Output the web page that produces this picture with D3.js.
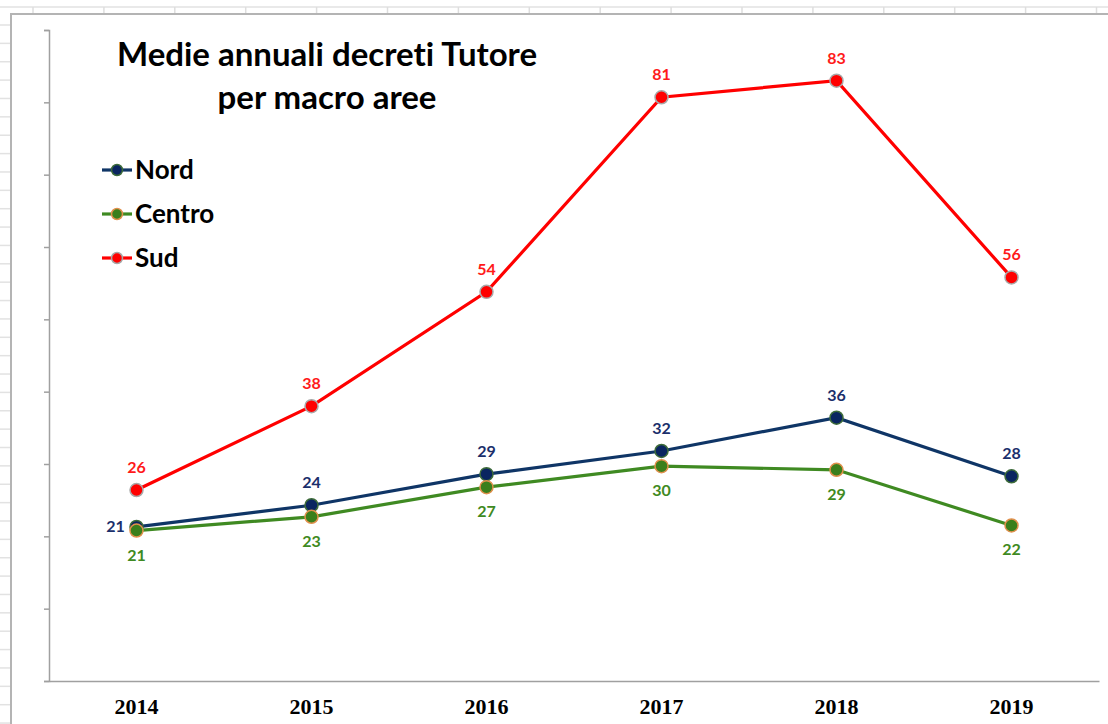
<!DOCTYPE html>
<html>
<head>
<meta charset="utf-8">
<script src="https://cdn.jsdelivr.net/npm/d3@7"></script>
<style>
  body { margin: 0; background: #fff; }
  svg { display: block; }
  text { font-variant-ligatures: none; }
</style>
</head>
<body>
<div id="chart"></div>
<script>
// Data
var years = ["2014", "2015", "2016", "2017", "2018", "2019"];
var nord = [21.3, 24.3, 28.6, 31.8, 36.4, 28.3];
var centro = [20.8, 22.7, 26.8, 29.7, 29.2, 21.5];
var sud = [26.4, 38.0, 53.8, 80.7, 83.0, 55.8];
var yTicks = [0, 10, 20, 30, 40, 50, 60, 70, 80, 90];

var W = 1108, H = 724;
var svg = d3.select("#chart").append("svg")
    .attr("width", W)
    .attr("height", H);

// spreadsheet background (grid of the sheet behind the chart)
var sheet = svg.append("g").attr("class", "sheet");
sheet.append("line")
    .attr("x1", 0).attr("x2", W).attr("y1", 7).attr("y2", 7)
    .attr("stroke", "#e2e2e2").attr("stroke-width", 1.5);
d3.range(33, W, 70.9).forEach(function(x) {
  sheet.append("line")
      .attr("x1", x).attr("x2", x).attr("y1", 7).attr("y2", 14)
      .attr("stroke", "#dedede").attr("stroke-width", 1.5);
});
d3.range(25, H, 18.37).forEach(function(y) {
  sheet.append("line")
      .attr("x1", 0).attr("x2", 11).attr("y1", y).attr("y2", y)
      .attr("stroke", "#e2e2e2").attr("stroke-width", 1.5);
});
// chart frame
svg.append("path")
    .attr("d", "M11," + H + "V14H" + W)
    .attr("fill", "none")
    .attr("stroke", "#b4b4b4")
    .attr("stroke-width", 2);

// Scales
var plotLeft = 49, plotRight = 1099, plotTop = 30, plotBottom = 681;
var x = d3.scaleBand().domain(years).range([plotLeft, plotRight]);
var y = d3.scaleLinear().domain([0, 90]).range([plotBottom, plotTop]);
var cx = function(d, i) { return x(years[i]) + x.bandwidth() / 2; };

// Axes
var yAxis = svg.append("g")
    .attr("transform", "translate(" + plotLeft + ",0)")
    .call(d3.axisLeft(y).tickValues(yTicks).tickSize(5).tickFormat(""));
yAxis.selectAll("path, line").attr("stroke", "#a0a0a0").attr("stroke-width", 1.5);

var xAxis = svg.append("g")
    .attr("transform", "translate(0," + plotBottom + ")")
    .call(d3.axisBottom(x).tickSize(0).tickPadding(17));
xAxis.select(".domain").attr("stroke", "#a0a0a0").attr("stroke-width", 1.5);
xAxis.selectAll("text")
    .attr("font-family", "'Liberation Serif', 'Times New Roman', serif")
    .attr("font-weight", "bold")
    .attr("font-size", 22)
    .attr("fill", "#000");

// Series
var series = [
  { name: "Nord", values: nord, line: "#0f3566", fill: "#0a2560", outline: "#3d6b3a", label: "#1b2f6b", pos: "above" },
  { name: "Centro", values: centro, line: "#3f8a22", fill: "#3a7f1c", outline: "#e0904c", label: "#3f8a22", pos: "below" },
  { name: "Sud", values: sud, line: "#ff0000", fill: "#ff0000", outline: "#a8a8a8", label: "#ff1a1a", pos: "above" }
];

var line = d3.line()
    .x(cx)
    .y(function(d) { return y(d); });

var labelFont = "Lato, 'Open Sans', sans-serif";

series.forEach(function(s) {
  var g = svg.append("g").attr("class", "series " + s.name);

  g.append("path")
      .datum(s.values)
      .attr("d", line)
      .attr("fill", "none")
      .attr("stroke", s.line)
      .attr("stroke-width", 3.2);

  g.selectAll("circle")
      .data(s.values)
    .enter().append("circle")
      .attr("cx", cx)
      .attr("cy", function(d) { return y(d); })
      .attr("r", 6.5)
      .attr("fill", s.fill)
      .attr("stroke", s.outline)
      .attr("stroke-width", 1.5);

  g.selectAll("text")
      .data(s.values)
    .enter().append("text")
      .attr("x", function(d, i) {
        if (s.name === "Nord" && i === 0) return cx(d, i) - 21;
        return cx(d, i);
      })
      .attr("y", function(d, i) {
        if (s.name === "Nord" && i === 0) return y(d) + 5;
        return s.pos === "above" ? y(d) - 17 : y(d) + 30;
      })
      .attr("text-anchor", "middle")
      .attr("font-family", labelFont)
      .attr("font-weight", "bold")
      .attr("font-size", 16)
      .attr("fill", s.label)
      .text(function(d) { return Math.round(d); });
});

// Title
var title = svg.append("text")
    .attr("text-anchor", "middle")
    .attr("font-family", labelFont)
    .attr("font-weight", "bold")
    .attr("font-size", 33)
    .attr("fill", "#000");
title.append("tspan").attr("x", 327).attr("y", 66).text("Medie annuali decreti Tutore");
title.append("tspan").attr("x", 327).attr("y", 109).text("per macro aree");

// Legend
var legend = svg.append("g").attr("class", "legend");
series.forEach(function(s, i) {
  var ly = 170 + i * 44;
  legend.append("line")
      .attr("x1", 102).attr("x2", 132).attr("y1", ly).attr("y2", ly)
      .attr("stroke", s.line).attr("stroke-width", 3.2);
  legend.append("circle")
      .attr("cx", 117).attr("cy", ly).attr("r", 5.5)
      .attr("fill", s.fill).attr("stroke", s.outline).attr("stroke-width", 1.5);
  legend.append("text")
      .attr("x", 135).attr("y", ly + 9)
      .attr("font-family", labelFont)
      .attr("font-weight", "bold")
      .attr("font-size", 26)
      .attr("fill", "#000")
      .text(s.name);
});
</script>
</body>
</html>
